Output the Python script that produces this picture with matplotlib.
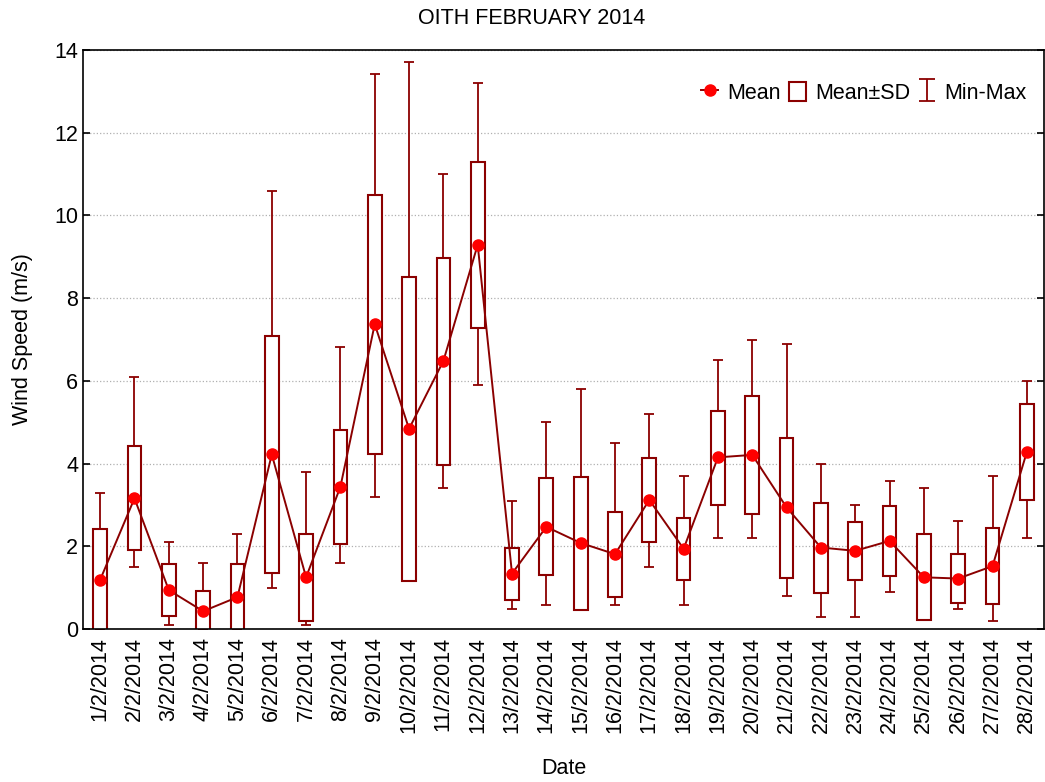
import matplotlib
matplotlib.use("Agg")
import matplotlib.pyplot as plt
from matplotlib.patches import Rectangle
from matplotlib.lines import Line2D

plt.rcParams["font.family"] = ["Liberation Sans", "DejaVu Sans"]

# daily wind speed stats, Feb 2014 (m/s)
dates = [f"{d}/2/2014" for d in range(1, 29)]
means = [1.19, 3.16, 0.94, 0.43, 0.77, 4.22, 1.25, 3.44, 7.37, 4.84,
         6.48, 9.29, 1.34, 2.47, 2.08, 1.81, 3.12, 1.94, 4.15, 4.21,
         2.94, 1.97, 1.89, 2.13, 1.25, 1.22, 1.52, 4.28]
sd_lo = [-0.04, 1.90, 0.31, -0.07, -0.02, 1.35, 0.20, 2.06, 4.22, 1.17,
         3.97, 7.29, 0.70, 1.31, 0.47, 0.78, 2.11, 1.19, 3.01, 2.79,
         1.24, 0.88, 1.19, 1.29, 0.21, 0.63, 0.60, 3.11]
sd_hi = [2.42, 4.42, 1.56, 0.93, 1.56, 7.08, 2.30, 4.82, 10.50, 8.50,
         8.98, 11.30, 1.97, 3.64, 3.68, 2.82, 4.13, 2.69, 5.27, 5.63,
         4.62, 3.05, 2.58, 2.97, 2.30, 1.81, 2.45, 5.44]
mins = [0.0, 1.49, 0.10, 0.0, 0.0, 0.99, 0.09, 1.60, 3.19, 1.17,
        3.41, 5.90, 0.49, 0.59, 0.47, 0.59, 1.49, 0.59, 2.19, 2.19,
        0.80, 0.30, 0.30, 0.90, 0.21, 0.49, 0.19, 2.19]
maxs = [3.30, 6.09, 2.10, 1.60, 2.29, 10.60, 3.80, 6.81, 13.41, 13.70,
        11.00, 13.20, 3.09, 5.00, 5.80, 4.49, 5.19, 3.69, 6.51, 7.00,
        6.90, 4.00, 2.99, 3.59, 3.41, 2.60, 3.69, 6.00]

dark = "#8b0000"
x = list(range(1, len(dates) + 1))
fs = 15.5

fig = plt.figure(figsize=(10.45, 7.82), dpi=100)
ax = fig.add_axes([83 / 1045, 1 - 629 / 782, (1044 - 83) / 1045, (629 - 50) / 782])

# whiskers min..max
yerr = [[m - lo for m, lo in zip(means, mins)], [hi - m for m, hi in zip(means, maxs)]]
ax.errorbar(x, means, yerr=yerr, fmt="none", ecolor=dark, elinewidth=1.3,
            capsize=3.5, capthick=1.3, zorder=1)

# mean +/- SD boxes
heights = [h - l for l, h in zip(sd_lo, sd_hi)]
ax.bar(x, heights, bottom=sd_lo, width=0.4, facecolor="white", edgecolor=dark,
       linewidth=1.5, zorder=2)

# mean line
ax.plot(x, means, color=dark, linewidth=1.4, marker="o", markersize=8,
        markerfacecolor="red", markeredgecolor="red", zorder=3)

ax.set_xlim(0.5, len(dates) + 0.5)
ax.set_ylim(0, 14)
ax.set_yticks(range(0, 15, 2))
ax.set_xticks(x)
ax.set_xticklabels(dates, rotation=90, fontsize=fs)
ax.tick_params(axis="x", which="major", length=0, pad=6)
ax.set_xticks(x[::2], minor=True)
ax.tick_params(axis="x", which="minor", direction="in", length=5, width=1.2,
               top=True, bottom=True)
ax.tick_params(axis="y", direction="in", length=5, width=1.2, labelsize=fs,
               left=True, right=True)
ax.grid(axis="y", color="#b0b0b0", linestyle=":", linewidth=0.9)
ax.set_axisbelow(True)
for s in ax.spines.values():
    s.set_linewidth(1.2)

ax.set_xlabel("Date", fontsize=fs, labelpad=18)
ax.set_ylabel("Wind Speed (m/s)", fontsize=fs, labelpad=15)
fig.text(532 / 1045, 1 - 18 / 782, "OITH FEBRUARY 2014", ha="center", va="center",
         fontsize=fs)

# legend handles (dummy errorbar with wider caps for the key)
h_mean = Line2D([], [], color=dark, linewidth=1.4, marker="o", markersize=8,
                markerfacecolor="red", markeredgecolor="red")
h_box = Rectangle((0, 0), 1, 1, facecolor="white", edgecolor=dark, linewidth=1.5)
h_err = ax.errorbar([float("nan")], [float("nan")], yerr=[[1], [1]], fmt="none",
                    ecolor=dark, elinewidth=1.3, capsize=6, capthick=1.3)
ax.legend([h_mean, h_box, h_err], ["Mean", "Mean±SD", "Min-Max"], loc="upper right",
          ncol=3, frameon=False, fontsize=fs, handlelength=0.8, handleheight=1.0,
          handletextpad=0.4, columnspacing=0.4, borderaxespad=0.4,
          bbox_to_anchor=(1.0, 0.975))

fig.savefig("out.png", dpi=100)
